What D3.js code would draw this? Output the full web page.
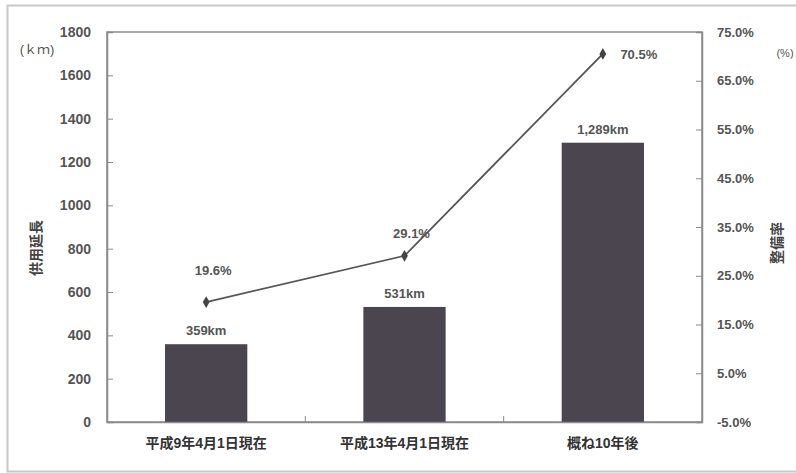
<!DOCTYPE html>
<html>
<head>
<meta charset="utf-8">
<script src="https://cdn.jsdelivr.net/npm/d3@7"></script>
<style>
  body { margin: 0; background: #fff; }
  svg text { font-family: "Liberation Sans", Arial, "Noto Sans CJK JP", sans-serif; }
</style>
</head>
<body>
<svg id="chart" width="796" height="473"></svg>
<script>
// chart data
var categories = ['平成9年4月1日現在', '平成13年4月1日現在', '概ね10年後'];
var lengthKm = [359, 531, 1289];
var lengthLabels = ['359km', '531km', '1,289km'];
var ratePct = [19.6, 29.1, 70.5];
var leftTicks = [0, 200, 400, 600, 800, 1000, 1200, 1400, 1600, 1800];
var rightTicks = [-5, 5, 15, 25, 35, 45, 55, 65, 75];

var svg = d3.select('#chart');
var margin = {top: 32, right: 94, bottom: 51, left: 107};
var width = +svg.attr('width') - margin.left - margin.right;
var height = +svg.attr('height') - margin.top - margin.bottom;

var axisColor = '#8a8a8a';
var textColor = '#555';

// outer frame of the picture
svg.append('rect')
    .attr('x', 7.5).attr('y', 5.5)
    .attr('width', 800).attr('height', 466)
    .style('fill', 'none')
    .style('stroke', '#c8c8c8')
    .style('stroke-width', 2);

var g = svg.append('g')
    .attr('transform', 'translate(' + margin.left + ',' + margin.top + ')');

var x = d3.scaleBand().domain(categories).range([0, width]).paddingInner(0.585).paddingOuter(0.2925);
var xb = d3.scaleBand().domain(categories).range([0, width]);
var yL = d3.scaleLinear().domain([0, 1800]).range([height, 0]);
var yR = d3.scaleLinear().domain([-5, 75]).range([height, 0]);

// plot frame
g.append('rect')
    .attr('width', width).attr('height', height)
    .style('fill', 'none')
    .style('stroke', axisColor)
    .style('stroke-width', 1.5);

// bars
g.selectAll('.bar')
    .data(lengthKm)
    .enter().append('rect')
    .attr('class', 'bar')
    .attr('x', function(d, i) { return x(categories[i]); })
    .attr('y', function(d) { return yL(d); })
    .attr('width', x.bandwidth())
    .attr('height', function(d) { return height - yL(d); })
    .style('fill', '#4b4550');

// left axis (ticks point inward)
var leftAxis = g.append('g')
    .call(d3.axisLeft(yL).tickValues(leftTicks).tickSize(-6).tickPadding(16).tickFormat(d3.format('d')));
leftAxis.select('.domain').style('stroke', axisColor).style('stroke-width', 1.5);
leftAxis.selectAll('line').style('stroke', axisColor);
leftAxis.selectAll('text')
    .style('font-size', '14px').style('font-weight', 'bold').style('fill', textColor);

// right axis
var rightAxis = g.append('g')
    .attr('transform', 'translate(' + width + ',0)')
    .call(d3.axisRight(yR).tickValues(rightTicks).tickSize(-6).tickPadding(15)
        .tickFormat(function(d) { return d.toFixed(1) + '%'; }));
rightAxis.select('.domain').style('stroke', axisColor).style('stroke-width', 1.5);
rightAxis.selectAll('line').style('stroke', axisColor);
rightAxis.selectAll('text')
    .style('font-size', '13px').style('font-weight', 'bold').style('fill', textColor);

// bottom axis with ticks at category boundaries
var bottomAxis = g.append('g')
    .attr('transform', 'translate(0,' + height + ')')
    .call(d3.axisBottom(x).tickSize(0).tickPadding(16));
bottomAxis.select('.domain').style('stroke', axisColor).style('stroke-width', 1.5);
bottomAxis.selectAll('text')
    .style('font-size', '14px').style('font-weight', 'bold').style('fill', '#333');
g.selectAll('.xtick')
    .data(categories.slice(1))
    .enter().append('line')
    .attr('x1', function(d) { return xb(d); })
    .attr('x2', function(d) { return xb(d); })
    .attr('y1', height).attr('y2', height - 6)
    .style('stroke', axisColor);

// bar value labels
g.selectAll('.barlabel')
    .data(lengthKm)
    .enter().append('text')
    .attr('x', function(d, i) { return x(categories[i]) + x.bandwidth() / 2; })
    .attr('y', function(d) { return yL(d) - 9; })
    .attr('text-anchor', 'middle')
    .style('font-size', '13px').style('font-weight', 'bold').style('fill', textColor)
    .text(function(d, i) { return lengthLabels[i]; });

// rate line
var cx = function(d, i) { return xb(categories[i]) + xb.bandwidth() / 2; };
var line = d3.line()
    .x(function(d, i) { return cx(d, i); })
    .y(function(d) { return yR(d); });
g.append('path')
    .datum(ratePct)
    .attr('d', line)
    .style('fill', 'none')
    .style('stroke', '#555')
    .style('stroke-width', 1.8);

g.selectAll('.dot')
    .data(ratePct)
    .enter().append('path')
    .attr('d', d3.symbol().type(d3.symbolDiamond).size(40))
    .attr('transform', function(d, i) { return 'translate(' + cx(d, i) + ',' + yR(d) + ')'; })
    .style('fill', '#444');

// rate labels: first two above, last to the right
var rateOffsets = [[7, -27], [7, -18], [36, 5]];
g.selectAll('.ratelabel')
    .data(ratePct)
    .enter().append('text')
    .attr('x', function(d, i) { return cx(d, i) + rateOffsets[i][0]; })
    .attr('y', function(d, i) { return yR(d) + rateOffsets[i][1]; })
    .attr('text-anchor', 'middle')
    .style('font-size', '13px').style('font-weight', 'bold').style('fill', textColor)
    .text(function(d) { return d.toFixed(1) + '%'; });

// axis titles
svg.append('text')
    .attr('x', 37).attr('y', 54)
    .attr('text-anchor', 'middle')
    .style('font-size', '13px').style('fill', textColor)
    .text('(ｋｍ)');
svg.append('text')
    .attr('x', 785).attr('y', 57)
    .attr('text-anchor', 'middle')
    .style('font-size', '11px').style('fill', textColor)
    .text('(%)');
svg.append('text')
    .attr('transform', 'translate(41,248) rotate(-90)')
    .attr('text-anchor', 'middle')
    .style('font-size', '14px').style('font-weight', 'bold').style('fill', '#444')
    .text('供用延長');
svg.append('text')
    .attr('transform', 'translate(782,243) rotate(-90)')
    .attr('text-anchor', 'middle')
    .style('font-size', '14px').style('font-weight', 'bold').style('fill', '#444')
    .text('整備率');
</script>
</body>
</html>
